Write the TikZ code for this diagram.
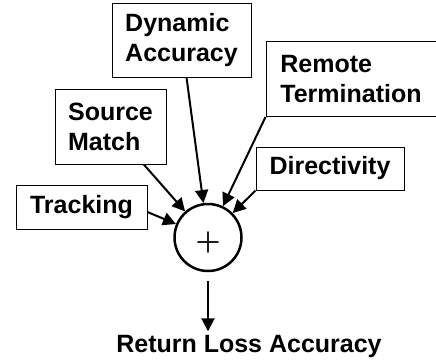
\documentclass[tikz,border=0pt]{standalone}
\usepackage{fontspec}
\setmainfont{Liberation Sans}
\newfontfamily\plusfont[FakeBold=1.2]{Latin Modern Roman}
\usetikzlibrary{arrows.meta}

\begin{document}
\begin{tikzpicture}[x=1pt,y=-1pt]
	\tikzset{errbox/.style={draw,line width=1pt,align=left,inner xsep=12pt,
	    font=\fontsize{25}{30}\selectfont\bfseries}}
	\tikzset{feed/.style={line width=2pt,-{Triangle[length=13pt,width=13pt]}}}

	\useasboundingbox (0,0) rectangle (436,360);

	\node[errbox,minimum width=139pt,minimum height=74pt] (dyn) at (181.5,40) {Dynamic\\Accuracy};
	\node[errbox,minimum width=170pt,minimum height=75pt] (remote) at (351,79) {Remote\\Termination};
	\node[errbox,minimum width=111pt,minimum height=75pt] (source) at (110.5,126.5) {Source\\Match};
	\node[errbox,minimum width=148pt,minimum height=43pt] (direct) at (330,168.5) {Directivity};
	\node[errbox,minimum width=131pt,minimum height=44pt] (track) at (81.5,207) {Tracking};

	\node[circle,draw,line width=2.5pt,minimum size=67pt,inner sep=0pt,
	  label={[yshift=-4.5pt,font=\plusfont\fontsize{34}{34}\selectfont]center:+}] (sum) at (208,237.5) {};
	\node[font=\fontsize{25}{30}\selectfont\bfseries,anchor=base] (out) at (249,352) {Return Loss Accuracy};

	\draw[feed] (dyn) -- (sum);
	\draw[feed] (remote.south west) -- (sum);
	\draw[feed] (source) -- (sum);
	\draw[feed] (direct.south west) -- (sum);
	\draw[feed] ([yshift=-5pt]track.east) -- (sum);
	\draw[feed,shorten <=9pt] (sum.south) -- (sum.south |- out.north);
\end{tikzpicture}
\end{document}
